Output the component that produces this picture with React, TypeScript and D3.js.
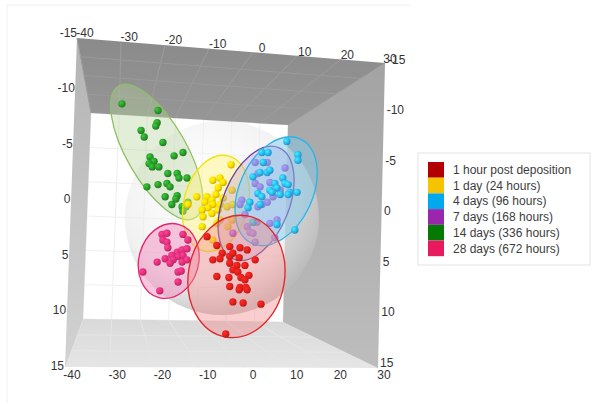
import * as d3 from "d3";

// ---------------------------------------------------------------------------
// Data (PCA scores: PC1 horizontal, PC2 vertical)
// ---------------------------------------------------------------------------

const X_TICKS = [-40, -30, -20, -10, 0, 10, 20, 30];
const Y_TICKS = [-15, -10, -5, 0, 5, 10, 15];

const LABELS = [
  "1 hour post deposition",
  "1 day (24 hours)",
  "4 days (96 hours)",
  "7 days (168 hours)",
  "14 days (336 hours)",
  "28 days (672 hours)",
];

const HOUR1: [number, number][] = [
  [-9.7, 3.4], [-7.5, 4.2], [-4.6, 4.3], [-6.3, 4.9], [-8.4, 5.5], [-6.8, 5.4],
  [-4.6, 5.2], [-2.3, 4.4], [-0.7, 4.6], [-3.9, 4.9], [-2.5, 5.3], [1.1, 5.5],
  [-4.6, 5.8], [-3.0, 6.0], [-1.2, 6.0], [-3.9, 6.4], [-2.8, 6.6], [-0.3, 6.9],
  [-7.5, 7.0], [-4.8, 7.1], [-2.1, 7.1], [-1.2, 7.3], [-4.6, 7.9], [-2.3, 8.0],
  [-1.0, 8.0], [-2.5, 8.2], [-0.7, 8.2], [-3.9, 9.3], [-1.6, 9.4], [2.4, 9.5],
  [-5.5, 12.2],
];

const DAY1: [number, number][] = [
  [-4.3, -3.1], [-8.4, -1.7], [-6.8, -1.9], [-6.1, -1.5], [-4.1, -0.8], [-7.2, -1.0],
  [-7.7, -0.4], [-9.7, -0.2], [-12.0, -0.2], [-10.2, 0.3], [-8.6, 0.1], [-8.4, 0.5],
  [-6.8, 0.5], [-9.5, 0.8], [-10.8, 1.0], [-10.6, 1.6], [-8.6, 1.3], [-7.2, 1.0],
  [-5.2, 0.7], [-14.0, 0.5], [-4.1, 1.9], [-10.8, 2.5], [-5.0, 2.5], [-6.8, 1.9],
  [-6.1, -0.1], [-3.9, 0.5], [-7.5, 2.2], [-8.4, 3.7],
];

const DAY4: [number, number][] = [
  [8.2, -5.2], [2.6, -4.2], [4.0, -4.2], [10.7, -4.0], [10.7, -3.5], [2.9, -3.3],
  [2.2, -2.4], [3.8, -2.4], [4.4, -2.6], [0.6, -2.0], [7.3, -1.9], [7.8, -1.4],
  [5.5, -1.4], [6.0, -1.0], [8.5, -1.3], [8.9, -0.6], [10.5, -0.6], [4.4, -0.8],
  [4.9, -0.6], [1.7, -0.5], [2.6, -0.2], [-0.1, 0.3], [-0.5, 0.8], [2.2, 0.5],
  [6.7, -0.4], [8.5, -0.4], [10.0, 2.8], [6.0, 2.3], [0.6, 2.1],
];

const DAY7: [number, number][] = [
  [1.1, -3.3], [3.8, -3.3], [7.8, -2.8], [1.7, -2.3], [1.1, -1.4], [2.2, -1.1],
  [4.4, -1.5], [6.7, -0.8], [5.1, -0.2], [3.8, 0.3], [1.7, 0.7], [-1.9, 0.1],
  [-2.3, 0.5], [-1.2, 1.4], [1.5, 2.1], [4.4, 2.2], [6.0, 1.9], [-0.7, 2.5],
  [-0.1, 3.0], [2.6, 0.5], [-3.9, 3.1], [0.6, 3.1], [1.1, 3.9], [5.5, 3.5],
];

const DAY14: [number, number][] = [
  [-28.8, -8.6], [-20.7, -8.0], [-20.9, -6.9], [-21.2, -6.6], [-24.5, -6.2], [-23.8, -5.6],
  [-19.6, -5.1], [-15.1, -4.2], [-17.1, -3.9], [-22.5, -3.8], [-21.6, -3.4], [-22.7, -3.2],
  [-22.0, -2.9], [-20.5, -2.9], [-18.5, -2.3], [-16.4, -2.3], [-16.0, -1.9], [-14.2, -1.9],
  [-18.7, -1.4], [-18.0, -1.1], [-23.2, -1.1], [-20.7, -1.3], [-19.1, -0.2], [-16.4, -0.3],
  [-16.7, 0.0], [-17.6, 0.5], [-15.3, 0.7], [-14.4, 0.7], [-14.0, 0.3], [-15.1, 1.1],
];

const DAY28: [number, number][] = [
  [-19.8, 3.2], [-18.7, 3.1], [-19.6, 3.7], [-18.7, 3.9], [-15.1, 3.2], [-14.0, 3.7],
  [-18.5, 4.4], [-16.4, 4.8], [-15.3, 4.6], [-14.2, 4.5], [-17.6, 5.1], [-16.2, 5.2],
  [-15.1, 5.1], [-19.1, 5.4], [-17.3, 5.5], [-15.3, 5.7], [-20.9, 5.7], [-24.1, 6.6],
  [-16.2, 6.6], [-15.5, 6.5], [-16.2, 7.5], [-20.3, 8.3], [-14.2, 5.5], [-18.0, 5.8],
];

// confidence ellipses: centre (PC units), semi-axes (PC1 units), screen angle (deg)
const ELL_HOUR1 = { cx: -3.1, cy: 7.0, a: 13.8, b: 10.8, angle: 100 };
const ELL_DAY1 = { cx: -7.7, cy: 0.4, a: 11.0, b: 7.2, angle: 105 };
const ELL_DAY4 = { cx: 5.8, cy: -0.7, a: 12.9, b: 8.2, angle: 115 };
const ELL_DAY7 = { cx: 1.3, cy: 0.4, a: 13.5, b: 7.4, angle: 112 };
const ELL_DAY14 = { cx: -21.0, cy: -4.25, a: 17.1, b: 6.7, angle: 60 };
const ELL_DAY28 = { cx: -18.3, cy: 5.6, a: 8.5, b: 6.7, angle: 105 };

// ---------------------------------------------------------------------------
// Styling
// ---------------------------------------------------------------------------

const FONT = "'Liberation Sans', Arial, sans-serif";
const TICK_FILL = "#333";

// legend swatch, point colour, ellipse fill, ellipse stroke
const STYLE = [
  { swatch: "#b20000", point: "#e41f1b", fill: "#f28b8b", stroke: "#e3242b", fo: 0.42 },
  { swatch: "#f5c300", point: "#ffdc00", fill: "#fff27a", stroke: "#f2e600", fo: 0.45 },
  { swatch: "#00a8ee", point: "#2cb8f2", fill: "#7fcdf0", stroke: "#2ab3ea", fo: 0.45 },
  { swatch: "#9a26ae", point: "#a35ad8", fill: "#b69ad8", stroke: "#6d3fa0", fo: 0.35 },
  { swatch: "#047a04", point: "#2b9b2b", fill: "#b5d39a", stroke: "#8fc063", fo: 0.38 },
  { swatch: "#e8195f", point: "#e3307a", fill: "#f28fbf", stroke: "#e3256e", fo: 0.5 },
];

const SERIES = [
  { key: "h1", pts: HOUR1, ell: ELL_HOUR1, style: STYLE[0] },
  { key: "d1", pts: DAY1, ell: ELL_DAY1, style: STYLE[1] },
  { key: "d4", pts: DAY4, ell: ELL_DAY4, style: STYLE[2] },
  { key: "d7", pts: DAY7, ell: ELL_DAY7, style: STYLE[3] },
  { key: "d14", pts: DAY14, ell: ELL_DAY14, style: STYLE[4] },
  { key: "d28", pts: DAY28, ell: ELL_DAY28, style: STYLE[5] },
];
// back-to-front draw order
const DRAW_ORDER = ["d14", "d1", "d7", "d4", "d28", "h1"];

// ---------------------------------------------------------------------------
// Box frame (projected 3D box corners)
// ---------------------------------------------------------------------------

type P = [number, number];
const O_TL: P = [77, 38];
const O_TR: P = [385, 63];
const O_BR: P = [378, 368];
const O_BL: P = [65, 367];
const I_TL: P = [91, 113];
const I_TR: P = [288, 125];
const I_BR: P = [283, 322];
const I_BL: P = [83, 319];

const lerp = (p: P, q: P, t: number): P => [p[0] + (q[0] - p[0]) * t, p[1] + (q[1] - p[1]) * t];
const poly = (...pts: P[]) => pts.map((p) => p.join(",")).join(" ");

// scales
const xPlot = d3.scaleLinear().domain([-40, 30]).range([72, 384]);
const yPlot = d3.scaleLinear().domain([-15, 15]).range([33, 365]);
const xTop = d3.scaleLinear().domain([-40, 0, 30]).range([85, 262, 390]);
const yTopBase = d3.scaleLinear().domain([77, 390]).range([36, 63]);
const xBottom = d3.scaleLinear().domain([-40, 0, 30]).range([72, 253, 384]);
const yLeft = d3.scaleLinear().domain([-15, 15]).range([32, 365]);
const xLeftEnd = d3.scaleLinear().domain([-15, 15]).range([77, 64]);
const yRight = d3.scaleLinear().domain([-15, 15]).range([59, 362]);
const xRightStart = d3.scaleLinear().domain([-15, 15]).range([388, 380]);
const fx = d3.scaleLinear().domain([-40, 30]).range([0, 1]);
const fy = d3.scaleLinear().domain([-15, 15]).range([0, 1]);
const pxPerUnit = xPlot(1) - xPlot(0);

export default function App() {
  const legendX = 418;
  const legendY = 153;
  const rowH = 15.7;

  return (
    <svg
      width={600}
      height={404}
      style={{ position: "absolute", left: 0, top: 0, background: "#fff" }}
    >
      <defs>
        <linearGradient id="ceil" x1="0" y1="0" x2="0" y2="1">
          <stop offset="0" stopColor="#8a8a8a" />
          <stop offset="1" stopColor="#979797" />
        </linearGradient>
        <linearGradient id="lwall" x1="0" y1="0" x2="0" y2="1">
          <stop offset="0" stopColor="#b4b4b4" />
          <stop offset="1" stopColor="#d2d2d2" />
        </linearGradient>
        <linearGradient id="rwall" x1="0" y1="0" x2="0" y2="1">
          <stop offset="0" stopColor="#a3a3a3" />
          <stop offset="1" stopColor="#bdbdbd" />
        </linearGradient>
        <linearGradient id="floor" x1="0" y1="0" x2="0" y2="1">
          <stop offset="0" stopColor="#d9d9d9" />
          <stop offset="1" stopColor="#e6e6e6" />
        </linearGradient>
        <radialGradient id="sphere" cx="0.42" cy="0.35" r="0.65">
          <stop offset="0" stopColor="#ffffff" stopOpacity={0.4} />
          <stop offset="0.72" stopColor="#e8e8e8" stopOpacity={0.6} />
          <stop offset="1" stopColor="#bcbcbc" stopOpacity={0.8} />
        </radialGradient>
        {SERIES.map((s) => (
          <radialGradient key={s.key} id={`pt-${s.key}`} cx="0.35" cy="0.35" r="0.7">
            <stop offset="0" stopColor={d3.color(s.style.point)!.brighter(0.8).formatHex()} />
            <stop offset="0.55" stopColor={s.style.point} />
            <stop offset="1" stopColor={d3.color(s.style.point)!.darker(0.7).formatHex()} />
          </radialGradient>
        ))}
      </defs>

      {/* faint image frame */}
      <path d="M7,403 L7,5 L410,5" fill="none" stroke="#f0f0f0" />

      {/* back wall grid */}
      {X_TICKS.map((t) => {
        const a = lerp(I_TL, I_TR, fx(t));
        const b = lerp(I_BL, I_BR, fx(t));
        return <line key={`bv${t}`} x1={a[0]} y1={a[1]} x2={b[0]} y2={b[1]} stroke="#efefef" />;
      })}
      {Y_TICKS.map((t) => {
        const a = lerp(I_TL, I_BL, fy(t));
        const b = lerp(I_TR, I_BR, fy(t));
        return <line key={`bh${t}`} x1={a[0]} y1={a[1]} x2={b[0]} y2={b[1]} stroke="#efefef" />;
      })}

      {/* floor */}
      <polygon points={poly(I_BL, I_BR, O_BR, O_BL)} fill="url(#floor)" />
      {X_TICKS.map((t) => {
        const a = lerp(I_BL, I_BR, fx(t));
        const b = lerp(O_BL, O_BR, fx(t));
        return <line key={`fv${t}`} x1={a[0]} y1={a[1]} x2={b[0]} y2={b[1]} stroke="#e6e6e6" />;
      })}
      {[0.33, 0.66].map((g) => {
        const a = lerp(I_BL, O_BL, g);
        const b = lerp(I_BR, O_BR, g);
        return <line key={`fh${g}`} x1={a[0]} y1={a[1]} x2={b[0]} y2={b[1]} stroke="#e6e6e6" />;
      })}

      {/* side walls */}
      <polygon points={poly(O_TL, I_TL, I_BL, O_BL)} fill="url(#lwall)" />
      <polygon points={poly(I_TR, O_TR, O_BR, I_BR)} fill="url(#rwall)" />

      {/* translucent sphere */}
      <circle cx={222} cy={218} r={97} fill="url(#sphere)" />

      {/* ceiling */}
      <polygon points={poly(O_TL, O_TR, I_TR, I_TL)} fill="url(#ceil)" />
      {X_TICKS.map((t) => {
        const a = lerp(O_TL, O_TR, fx(t));
        const b = lerp(I_TL, I_TR, fx(t));
        return <line key={`cv${t}`} x1={a[0]} y1={a[1]} x2={b[0]} y2={b[1]} stroke="#9c9c9c" />;
      })}
      {[0.25, 0.5, 0.75].map((g) => {
        const a = lerp(O_TL, I_TL, g);
        const b = lerp(O_TR, I_TR, g);
        return <line key={`ch${g}`} x1={a[0]} y1={a[1]} x2={b[0]} y2={b[1]} stroke="#9a9a9a" />;
      })}

      {/* tick labels */}
      <g fontFamily={FONT} fontSize={12} fill={TICK_FILL}>
        {X_TICKS.map((t) => (
          <text key={`xt${t}`} x={xTop(t)} y={yTopBase(xTop(t))} textAnchor="middle">
            {t}
          </text>
        ))}
        {X_TICKS.map((t) => (
          <text key={`xb${t}`} x={xBottom(t)} y={379} textAnchor="middle">
            {t}
          </text>
        ))}
        {Y_TICKS.map((t) => (
          <text key={`yl${t}`} x={xLeftEnd(t)} y={yLeft(t) + 4.5} textAnchor="end">
            {t}
          </text>
        ))}
        {Y_TICKS.map((t) => (
          <text key={`yr${t}`} x={xRightStart(t)} y={yRight(t) + 4.5} textAnchor="start">
            {t}
          </text>
        ))}
      </g>

      {/* groups: ellipse then points */}
      {DRAW_ORDER.map((k) => {
        const s = SERIES.find((d) => d.key === k)!;
        const cx = xPlot(s.ell.cx);
        const cy = yPlot(s.ell.cy);
        return (
          <g key={k}>
            <ellipse
              cx={cx}
              cy={cy}
              rx={s.ell.a * pxPerUnit}
              ry={s.ell.b * pxPerUnit}
              transform={`rotate(${s.ell.angle},${cx},${cy})`}
              fill={s.style.fill}
              fillOpacity={s.style.fo}
              stroke={s.style.stroke}
              strokeWidth={1.3}
            />
            {s.pts.map(([x, y], i) => (
              <circle key={i} cx={xPlot(x)} cy={yPlot(y)} r={3.7} fill={`url(#pt-${k})`} />
            ))}
          </g>
        );
      })}

      {/* legend */}
      <rect
        x={legendX}
        y={legendY}
        width={172}
        height={112}
        fill="#fff"
        stroke="#e4e4e4"
      />
      {LABELS.map((lab, i) => (
        <g key={lab}>
          <rect
            x={legendX + 10}
            y={legendY + 9 + i * rowH}
            width={16}
            height={rowH}
            fill={STYLE[i].swatch}
          />
          <text
            x={legendX + 35}
            y={legendY + 9 + i * rowH + 12}
            fontFamily={FONT}
            fontSize={12}
            fill="#3c3c3c"
          >
            {lab}
          </text>
        </g>
      ))}
    </svg>
  );
}
